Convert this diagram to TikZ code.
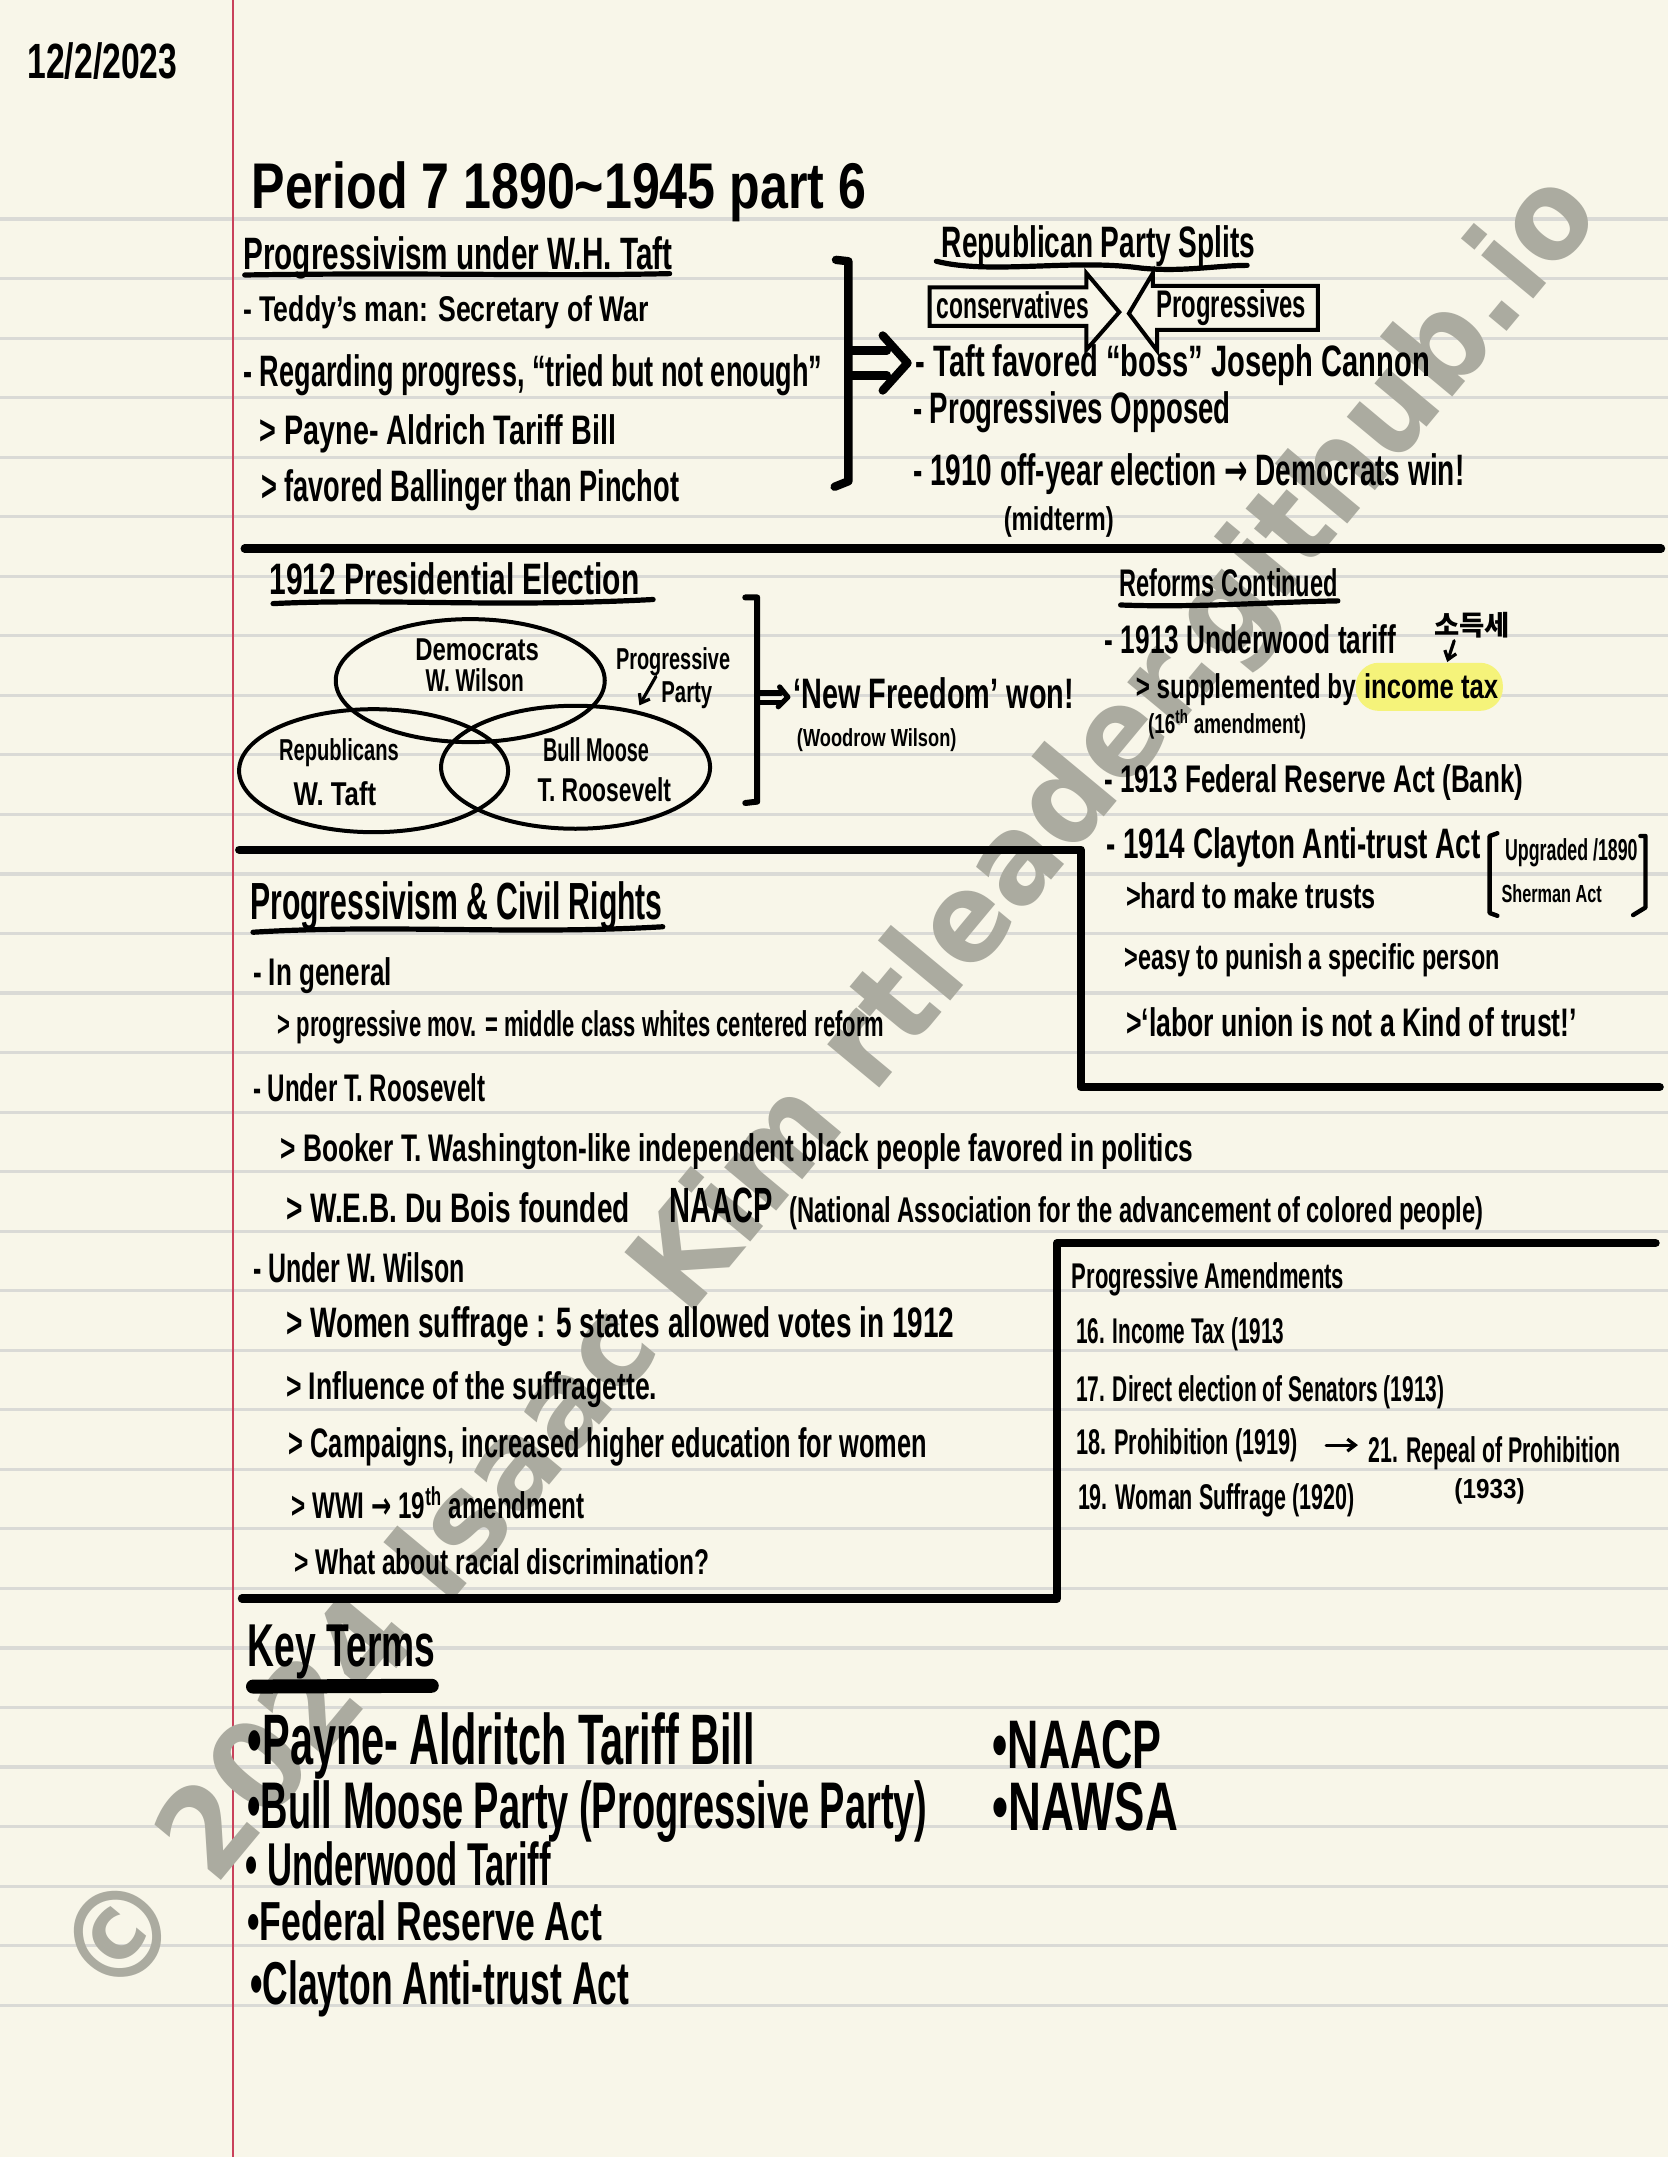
\documentclass[tikz,border=0pt]{standalone}
\usepackage{fontspec}
\usepackage{graphicx}
\setmainfont{Liberation Sans}
\newfontfamily\cjkfont{Noto Sans CJK KR}
\newfontfamily\wmfont{DejaVu Sans}
\usetikzlibrary{arrows.meta,shapes.geometric}
\definecolor{paper}{HTML}{F8F6E9}
\definecolor{ruleline}{HTML}{DADAD6}
\definecolor{marginred}{HTML}{C9415B}
\definecolor{wmark}{HTML}{ABABA0}
\definecolor{hilite}{HTML}{F5F37A}
\newsavebox\hwbox
% \hw[options]{name}{x0}{x1}{baseline}{size}{text}
\newcommand\hw[7][]{%
  \node[hwtext,#1] (#2) at (#3,#5) {%
    \pgfmathsetmacro{\fs}{#6*0.6875}%
    \sbox\hwbox{\fontsize{\fs}{\fs}\selectfont\bfseries #7}%
    \pgfmathsetmacro{\xs}{(#4-#3)*0.6875/(\wd\hwbox)}%
    \scalebox{\xs}[1]{\usebox\hwbox}};}
\newcommand\arw{{\wmfont →}}
\tikzset{
  hwtext/.style={anchor=base west,inner sep=0pt,outer sep=0pt,text=black},
  rulestyle/.style={ruleline,line width=1.6pt},
  heavy/.style={line width=4.2pt,line cap=round,line join=round},
  under/.style={line width=2.6pt,line cap=round,line join=round},
  thinink/.style={line width=1.6pt,line cap=round,line join=round},
  venn/.style={ellipse,draw=black,line width=2pt,inner sep=0pt,minimum width=134.5pt,minimum height=61.5pt},
  bracket/.style={line width=3pt,line cap=round,line join=round},
  arrowbox/.style={line width=2pt,line join=miter},
}
\begin{document}
\begin{tikzpicture}[x=0.6875pt,y=-0.6875pt]
\useasboundingbox (0,0) rectangle (1213.09,1568.73);
\fill[paper] (0,0) rectangle (1213.09,1568.73);
% ruled paper
\foreach \k in {0,...,30} {
  \draw[rulestyle] (0,{159.3+43.3*\k}) -- (1213.09,{159.3+43.3*\k});
}
\draw[marginred,line width=1.3pt] (169.5,0) -- (169.5,1568.73);
% watermark
\hw[rotate=50.3,text=wmark]{wm}{84}{1778}{1460}{90}{\wmfont © 2024 Isaac Kim rtleader.github.io}
% date and title
\hw{date}{20}{129}{57}{36}{12/2/2023}
\hw{title}{183}{630}{152}{47}{Period 7 1890\textasciitilde1945 part 6}
% top-left block
\hw{h1}{177}{489}{196}{33}{Progressivism under W.H. Taft}
\draw[under] (178,200) .. controls (300,198) and (400,201) .. (487,199);
\hw{a1}{177}{472}{234}{26}{- Teddy's man: Secretary of War}
\hw{a2}{177}{598}{281}{32}{- Regarding progress, “tried but not enough”}
\hw{a3}{189}{448}{323}{30}{> Payne- Aldrich Tariff Bill}
\hw{a4}{190}{494}{365}{32}{> favored Ballinger than Pinchot}
% big bracket and double arrow
\coordinate (bt) at (608,189);
\coordinate (bb) at (607,354);
\draw[heavy] (bt) -- (617,190) -- (617,350) -- (bb);
\coordinate (c1) at (642,244);
\coordinate (c2) at (660,264);
\coordinate (c3) at (642,284);
\draw[heavy] (617,255) -- (645,255);
\draw[heavy] (617,273) -- (645,273);
\draw[heavy] (c1) -- (c2) -- (c3);
% top-right block
\hw{h2}{685}{913}{187}{32}{Republican Party Splits}
\draw[under] (681,190) .. controls (720,200) and (780,188) .. (830,195) .. controls (860,198) and (885,193) .. (907,193);
\draw[arrowbox] (676,209) -- (790,209) -- (790,198.5) -- (814,227) -- (790,254.5) -- (790,237) -- (676,237) -- cycle;
\draw[arrowbox] (958.5,208) -- (838.5,208) -- (838.5,198.5) -- (821,228) -- (841.5,255) -- (841.5,240) -- (958.5,240) -- cycle;
\hw{cons}{681}{792}{232}{27}{conservatives}
\hw{prog}{841}{950}{231}{28}{Progressives}
\hw{b1}{666}{1040}{274}{32}{- Taft favored “boss” Joseph Cannon}
\hw{b2}{664}{895}{308}{32}{- Progressives Opposed}
\hw{b3}{664}{1065}{353}{32}{- 1910 off-year election \arw{} Democrats win!}
\hw{b4}{730}{810}{386}{24}{(midterm)}
\draw[heavy] (178,399) -- (1208,399);
% 1912 election
\hw{h3}{196}{465}{432}{32}{1912 Presidential Election}
\draw[under] (198.6,439) .. controls (280,435) and (360,442) .. (475,436);
\node[venn] (dem) at (342,495) {};
\node[venn] (rep) at (271.7,560.5) {};
\node[venn] (bull) at (418.6,558) {};
\hw{v1}{302}{392}{480}{23}{Democrats}
\hw{v2}{309.5}{381}{503}{23}{W. Wilson}
\hw{v3}{203}{290}{553}{22}{Republicans}
\hw{v4}{213.5}{273.6}{585.5}{24}{W. Taft}
\hw{v5}{395}{472}{554}{24}{Bull Moose}
\hw{v6}{391}{488}{583}{24}{T. Roosevelt}
\hw{pp1}{448}{531}{487}{22}{Progressive}
\hw{pp2}{481}{518}{510.6}{22}{Party}
\coordinate (ppa) at (477,492);
\coordinate (ppb) at (465,513);
\draw[thinink,-{Straight Barb[length=4pt,width=6pt]}] (ppa) -- (ppb);
\coordinate (e1) at (542,434.5);
\coordinate (e2) at (542,584);
\draw[bracket] (e1) -- (550.7,434.5) -- (550.7,583) -- (e2);
\coordinate (f1) at (567,499.6);
\coordinate (f2) at (573,507);
\coordinate (f3) at (566,514);
\draw[under] (550.7,504) -- (568,504);
\draw[under] (550.7,511) -- (568,511);
\draw[under] (f1) -- (f2) -- (f3);
\hw{nf}{577}{781}{515}{31}{`New Freedom' won!}
\hw{ww}{579.6}{695.6}{543}{18}{(Woodrow Wilson)}
% reforms
\hw{h4}{814}{973}{433.6}{28}{Reforms Continued}
\draw[under] (815,440) .. controls (870,442) and (920,438) .. (973,437);
\hw{r1}{803.6}{1015.6}{475}{29}{- 1913 Underwood tariff}
\hw{ko}{1043}{1098}{462}{20}{\cjkfont 소득세}
\coordinate (koa) at (1057.6,466);
\coordinate (kob) at (1052.5,481.5);
\draw[thinink,-{Straight Barb[length=4pt,width=6pt]}] (koa) -- (kob);
\fill[hilite,rounded corners=11.5pt] (986,482) rectangle (1093,517);
\hw{r2}{826}{986}{507.7}{25}{> supplemented by}
\hw{r3}{992}{1089.6}{507.7}{25}{income tax}
\hw{r4}{835}{950}{533.5}{20}{(16\textsuperscript{th} amendment)}
\hw{r5}{803}{1108}{576}{28}{- 1913 Federal Reserve Act (Bank)}
\hw{r6}{804.7}{1076.9}{624}{31}{- 1914 Clayton Anti-trust Act}
\coordinate (g1) at (1089,606);
\coordinate (g2) at (1089,666);
\draw[thinink,line width=2.2pt] (g1) -- (1083.4,608) -- (1083.4,664) -- (g2);
\coordinate (g3) at (1193,608);
\coordinate (g4) at (1187.7,665.5);
\draw[thinink,line width=2.2pt] (g3) -- (1196.7,608) -- (1196.7,660) -- (g4);
\hw{r7}{1094.6}{1191}{625.5}{22}{Upgraded /1890}
\hw{r8}{1092}{1165}{656}{18}{Sherman Act}
\hw{r9}{819}{1000.7}{660.6}{26}{>hard to make trusts}
\hw{r10}{818}{1091}{704.8}{26}{>easy to punish a specific person}
\hw{r11}{819}{1146.9}{754}{29}{>‘labor union is not a Kind of trust!’}
% L frame
\draw[heavy] (174,618) -- (786,618) -- (786,790.5) -- (1207,790.5);
% civil rights
\hw{h5}{182}{482}{669}{38}{Progressivism \& Civil Rights}
\draw[under] (184,678) .. controls (280,672) and (380,680) .. (482,674);
\hw{c1t}{184}{285}{717}{28}{- In general}
\hw{c2t}{202}{643}{754}{26}{> progressive mov. = middle class whites centered reform}
\hw{c3t}{184}{353}{801}{28}{- Under T. Roosevelt}
\hw{c4t}{204}{868}{845}{28}{> Booker T. Washington-like independent black people favored in politics}
\hw{c5t}{208}{458}{889}{30}{> W.E.B. Du Bois founded}
\hw{c6t}{487}{562}{889}{36}{NAACP}
\hw{c7t}{574}{1079}{889}{26}{(National Association for the advancement of colored people)}
\hw{c8t}{184}{338}{933}{30}{- Under W. Wilson}
\hw{c9t}{208}{694}{973}{31}{> Women suffrage : 5 states allowed votes in 1912}
\hw{c10t}{208}{478}{1018}{28}{> Influence of the suffragette.}
\hw{c11t}{210}{674}{1060}{30}{> Campaigns, increased higher education for women}
\hw{c12t}{212}{425}{1104}{27}{> WWI \arw{} 19\textsuperscript{th} amendment}
\hw{c13t}{214}{516}{1145}{26}{> What about racial discrimination?}
% amendments frame
\draw[heavy] (1204,904) -- (768.8,904) -- (768.8,1162.5) -- (176,1162.5);
\hw{m0}{779.6}{977.6}{937}{26}{Progressive Amendments}
\hw{m1}{782.6}{934}{977}{26}{16. Income Tax (1913}
\hw{m2}{782.6}{1050.5}{1019.6}{26}{17. Direct election of Senators (1913)}
\hw{m3}{782.6}{944}{1058}{26}{18. Prohibition (1919)}
\coordinate (ma) at (964.5,1051);
\coordinate (mb) at (987.6,1051);
\draw[thinink,-{Straight Barb[length=4pt,width=6pt]}] (ma) -- (mb);
\hw{m4}{995.6}{1178.7}{1063.4}{26}{21. Repeal of Prohibition}
\hw{m5}{1057.8}{1108.8}{1089.6}{20}{(1933)}
\hw{m6}{784}{985}{1098}{26}{19. Woman Suffrage (1920)}
% key terms
\hw{kt}{180.3}{316.8}{1212}{44}{Key Terms}
\draw[line width=7pt,line cap=round] (184,1226.6) -- (314,1226);
\hw{k1}{180.3}{549}{1283.6}{52}{•Payne- Aldritch Tariff Bill}
\hw{k2}{180}{674.6}{1329.7}{48}{•Bull Moose Party (Progressive Party)}
\hw{k3}{178.5}{400.7}{1371}{44}{• Underwood Tariff}
\hw{k4}{180}{438}{1411}{40}{•Federal Reserve Act}
\hw{k5}{182}{457.6}{1458}{44}{•Clayton Anti-trust Act}
\hw{k6}{722}{845}{1286}{50}{•NAACP}
\hw{k7}{722}{856.8}{1331}{50}{•NAWSA}
\end{tikzpicture}
\end{document}
